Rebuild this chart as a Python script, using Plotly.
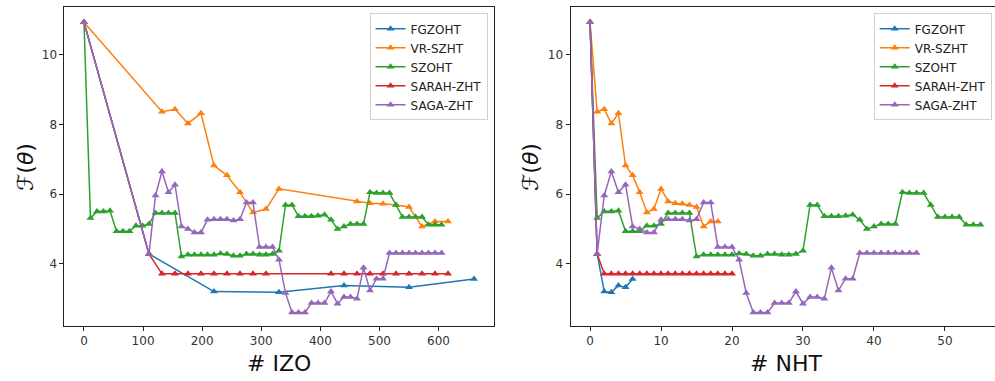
import plotly.graph_objects as go

# objective value per iteration
names = ["FGZOHT", "VR-SZHT", "SZOHT", "SARAH-ZHT", "SAGA-ZHT"]
colors = ["#1f77b4", "#ff7f0e", "#2ca02c", "#d62728", "#9467bd"]

fgzoht_f = [10.94, 4.28, 3.20, 3.18, 3.37, 3.32, 3.56]
vrszht_f = [10.94, 8.37, 8.44, 8.03, 8.32, 6.82, 6.54, 6.05, 5.47, 5.57,
            6.15, 5.79, 5.74, 5.72, 5.69, 5.63, 5.07, 5.21, 5.21]
szoht_f = [10.94, 5.31, 5.50, 5.50, 5.52, 4.93, 4.93, 4.93, 5.09, 5.09,
           5.14, 5.46, 5.46, 5.46, 5.46, 4.21, 4.26, 4.26, 4.26, 4.26,
           4.26, 4.29, 4.28, 4.23, 4.23, 4.28, 4.28, 4.26, 4.26, 4.28,
           4.37, 5.69, 5.69, 5.36, 5.36, 5.36, 5.38, 5.41, 5.26, 5.00,
           5.07, 5.14, 5.14, 5.14, 6.05, 6.03, 6.03, 6.03, 5.69, 5.34,
           5.34, 5.34, 5.34, 5.12, 5.12, 5.12]
sarah_f = [10.94, 4.28, 3.71, 3.71, 3.71, 3.71, 3.71, 3.71, 3.71, 3.71,
           3.71, 3.71, 3.71, 3.71, 3.71, 3.71, 3.71, 3.71, 3.71, 3.71, 3.71]
saga_f = [10.94, 4.28, 5.96, 6.65, 6.05, 6.27, 5.07, 5.00, 4.90, 4.90,
          5.26, 5.28, 5.28, 5.28, 5.24, 5.28, 5.76, 5.76, 4.48, 4.48,
          4.48, 4.11, 3.16, 2.60, 2.60, 2.60, 2.87, 2.87, 2.87, 3.20,
          2.85, 3.04, 3.04, 2.99, 3.88, 3.23, 3.57, 3.57, 4.31, 4.31,
          4.31, 4.31, 4.31, 4.31, 4.31, 4.31, 4.31]

# cumulative IZO count at each iteration
fgzoht_izo = [0, 110, 220, 330, 440, 550, 660]
vrszht_izo = [0, 132, 154, 176, 198, 220, 242, 264, 286, 308, 330,
              462, 484, 506, 528, 550, 572, 594, 616]
szoht_izo = [0, 11, 22, 33, 44, 55, 66, 77, 88, 99, 110, 121, 132, 143,
             154, 165, 176, 187, 198, 209, 220, 231, 242, 253, 264, 275,
             286, 297, 308, 319, 330, 341, 352, 363, 374, 385, 396, 407,
             418, 429, 440, 451, 462, 473, 484, 495, 506, 517, 528, 539,
             550, 561, 572, 583, 594, 605]
sarah_izo = [0, 110, 132, 154, 176, 198, 220, 242, 264, 286, 308,
             418, 440, 462, 484, 506, 528, 550, 572, 594, 616]
saga_izo = [0, 110, 121, 132, 143, 154, 165, 176, 187, 198, 209, 220,
            231, 242, 253, 264, 275, 286, 297, 308, 319, 330, 341, 352,
            363, 374, 385, 396, 407, 418, 429, 440, 451, 462, 473, 484,
            495, 506, 517, 528, 539, 550, 561, 572, 583, 594, 605]

values = [fgzoht_f, vrszht_f, szoht_f, sarah_f, saga_f]
izo = [fgzoht_izo, vrszht_izo, szoht_izo, sarah_izo, saga_izo]

FONT = "DejaVu Sans"

fig = go.Figure()

for name, color, y, x in zip(names, colors, values, izo):
    style = dict(
        mode="lines+markers",
        line=dict(color=color, width=1.5),
        marker=dict(symbol="triangle-up", size=7, color=color),
        name=name,
    )
    fig.add_scatter(x=x, y=y, xaxis="x", yaxis="y", legend="legend", **style)
    fig.add_scatter(x=list(range(len(y))), y=y, xaxis="x2", yaxis="y2",
                    legend="legend2", **style)

axis_common = dict(
    showline=True,
    linecolor="#222",
    linewidth=1,
    ticks="outside",
    ticklen=4,
    tickcolor="#222",
    tickfont=dict(family=FONT, size=12, color="#333"),
    showgrid=False,
    zeroline=False,
)

legend_common = dict(
    bgcolor="rgba(255,255,255,0.85)",
    bordercolor="#d0d0d0",
    borderwidth=1,
    font=dict(family=FONT, size=12, color="#222"),
    xanchor="right",
    yanchor="top",
    y=0.965,
    tracegroupgap=0,
)

fig.update_layout(
    width=995,
    height=381,
    margin=dict(l=0, r=0, t=0, b=0),
    plot_bgcolor="white",
    paper_bgcolor="white",
    xaxis=dict(domain=[0.0648, 0.4960], range=[-33, 693], tickvals=[0, 100, 200, 300, 400, 500, 600],
               mirror=True, anchor="y", **axis_common),
    yaxis=dict(domain=[0.1444, 0.981], range=[2.21, 11.37], tickvals=[4, 6, 8, 10],
               mirror=True, anchor="x", **axis_common),
    xaxis2=dict(domain=[0.5734, 1.0], range=[-2.75, 57.05], tickvals=[0, 10, 20, 30, 40, 50],
                mirror=True, anchor="y2", **axis_common),
    yaxis2=dict(domain=[0.1444, 0.981], range=[2.21, 11.37], tickvals=[4, 6, 8, 10],
                mirror=False, anchor="x2", **axis_common),
    legend=dict(x=0.490, **legend_common),
    legend2=dict(x=0.9967, **legend_common),
)

title_font = dict(family=FONT, size=22, color="#111")
for xc, text in [(279, "# IZO"), (786, "# NHT")]:
    fig.add_annotation(x=xc / 995, y=1 - 363 / 381, xref="paper", yref="paper",
                       text=text, showarrow=False, font=title_font,
                       xanchor="center", yanchor="middle")
for xc in [25, 530]:
    fig.add_annotation(x=xc / 995, y=1 - 167 / 381, xref="paper", yref="paper",
                       text="ℱ(<i>θ</i>)", showarrow=False, font=title_font,
                       textangle=-90, xanchor="center", yanchor="middle")

# the page's default body margin would push the figure 8px off the window
fig.write_html("out.html", config={"displayModeBar": False},
               post_script="document.body.style.margin = '0';")
